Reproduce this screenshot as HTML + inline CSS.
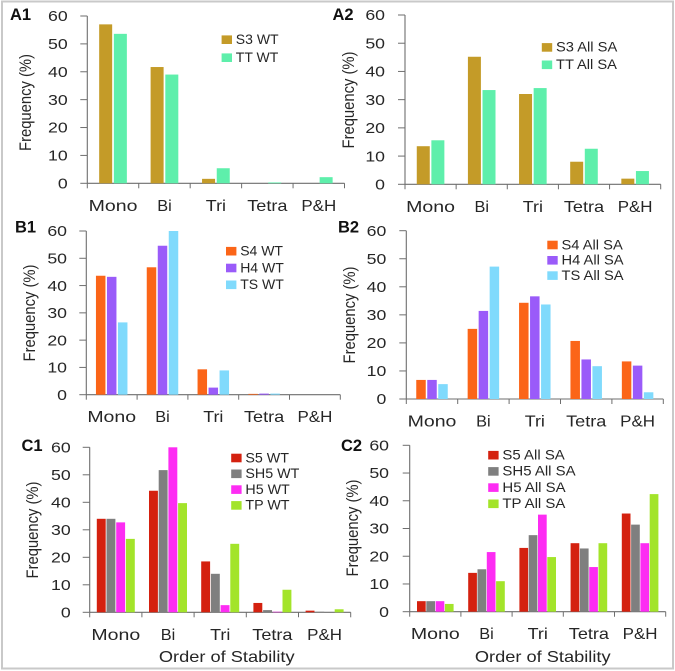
<!DOCTYPE html>
<html>
<head>
<meta charset="utf-8">
<style>
html,body{margin:0;padding:0;background:#fff;}
svg{display:block;font-family:"Liberation Sans",sans-serif;}
</style>
</head>
<body>
<svg id="figure" width="675" height="671" viewBox="0 0 675 671" xmlns="http://www.w3.org/2000/svg">
<rect x="0" y="0" width="675" height="671" fill="#ffffff"/>
<rect x="2" y="1.5" width="671" height="667" fill="none" stroke="#c9c9c9" stroke-width="2"/>
<g id="plots"></g>
</svg>
<script>
const categories = ['Mono', 'Bi', 'Tri', 'Tetra', 'P&H'];
const yTickLabels = [0, 10, 20, 30, 40, 50, 60];

const a1S3 = [57, 41.7, 1.6, 0, 0];
const a1TT = [53.6, 39, 5.4, 0.3, 2.2];
const a2S3 = [13.5, 45.2, 32, 8, 2];
const a2TT = [15.6, 33.4, 34.1, 12.6, 4.7];
const b1S4 = [43.6, 46.7, 9.3, 0.3, 0];
const b1H4 = [43.2, 54.6, 2.6, 0.4, 0];
const b1TS = [26.5, 60, 8.9, 0.4, 0];
const b2S4 = [6.8, 25, 34.3, 20.7, 13.4];
const b2H4 = [6.8, 31.4, 36.6, 14.1, 11.9];
const b2TS = [5.3, 47.2, 33.7, 11.7, 2.4];
const c1S5 = [34, 44.2, 18.5, 3.4, 0.6];
const c1SH5 = [34, 51.7, 14, 0.8, 0.2];
const c1H5 = [32.7, 60, 2.6, 0.2, 0];
const c1TP = [26.7, 39.7, 24.9, 8.2, 1.1];
const c2S5 = [3.8, 14, 23, 24.7, 35.4];
const c2SH5 = [3.8, 15.3, 27.6, 22.8, 31.4];
const c2H5 = [3.8, 21.5, 35, 16.1, 24.7];
const c2TP = [2.8, 11, 19.7, 24.7, 42.4];

const COLORS = {S3:'#c49b28', TT:'#5eefab', S4:'#fb6518', H4:'#9a5bf9', TS:'#80dafc', S5:'#d4210f', SH5:'#7f7f7f', H5:'#fd2cf3', TP:'#a3e42a'};
const STRETCH = {'Mono':1.22, 'Bi':1.02, 'Tri':1.12, 'Tetra':1.13, 'P&H':1.06};
const NS = 'http://www.w3.org/2000/svg';
const root = document.getElementById('plots');

function slug(s){ return s.toLowerCase().replace(/&/g,'-and-').replace(/[^a-z0-9]+/g,'-'); }

function make(parent, tag, attrs){
  const el = document.createElementNS(NS, tag);
  for (const k in attrs) el.setAttribute(k, attrs[k]);
  parent.appendChild(el);
  return el;
}

function label(parent, name, str, x, y, size, anchor, sx, extra){
  const el = make(parent, 'text', Object.assign({
    transform: 'translate(' + x + ',' + y + ') scale(' + sx + ',1)',
    'font-size': size, 'text-anchor': anchor, fill: '#262626'
  }, extra || {}));
  
  
  el.textContent = str;
  return el;
}

function drawPanel(p){
  const g = make(root, 'g', {});
  
  

  const bandW = (p.x1 - p.x0) / categories.length;
  const xBand = function(i){ return p.x0 + bandW * i; };
  const yScale = function(v){ return p.yb - (p.yb - p.yt) * v / 60; };

  // axes
  const yAxis = make(g, 'line', {x1: p.x0, x2: p.x0, y1: p.yt, y2: p.yb, stroke: '#6e6e6e', 'stroke-width': 1.1});
  
  
  const xAxis = make(g, 'line', {x1: p.x0, x2: p.x1, y1: p.yb, y2: p.yb, stroke: '#6e6e6e', 'stroke-width': 1.1});
  
  

  // bars
  const n = p.series.length;
  const total = n * p.barW + (n - 1) * p.gap;
  p.series.forEach(function(s, si){
    s.values.forEach(function(v, ci){
      const bx = xBand(ci) + (bandW - total) / 2 + si * (p.barW + p.gap);
      const by = yScale(v);
      const bar = make(g, 'rect', {x: bx, y: by, width: p.barW, height: Math.max(0, p.yb - by), fill: COLORS[s.key]});
      
      
    });
  });

  yTickLabels.forEach(function(t){
    const yy = yScale(t);
    const tick = make(g, 'line', {x1: p.x0 - 7, x2: p.x0, y1: yy, y2: yy, stroke: '#6e6e6e', 'stroke-width': 1});
    
    
    label(g, 'y-tick-label', String(t), p.x0 - p.ylOff, yy + 5.2, 14.5, 'end', 1.22);
  });

  for (let i = 0; i <= categories.length; i++) {
    const tick = make(g, 'line', {x1: xBand(i), x2: xBand(i), y1: p.yb, y2: p.yb + 5, stroke: '#6e6e6e', 'stroke-width': 1});
    
    
  }
  categories.forEach(function(c, i){
    label(g, 'x-tick-label', c, xBand(i) + bandW / 2, p.yb + 27.5, 16, 'middle', STRETCH[c]);
  });

  // axis titles
  label(g, 'y-axis-title', 'Frequency (%)', 0, 0, 17, 'middle', 1, {transform: 'translate(' + p.ytx + ',' + p.yty + ') rotate(-90) scale(0.87,1)'});
  if (p.xTitle) label(g, 'x-axis-title', 'Order of Stability', p.xTitle, 662, 16, 'middle', 1.14);

  // panel tag
  label(g, 'panel-label', p.id, p.tagX, p.tagY, 16.5, 'start', 1, {'font-weight': 'bold', fill: '#111'});

  // legend
  const legend = make(g, 'g', {});
  
  
  p.series.forEach(function(s, si){
    const yy = p.legY + si * p.legStep;
    const sw = make(legend, 'rect', {x: p.legX, y: yy - 8.6, width: 10.4, height: 8.6, fill: COLORS[s.key]});
    
    
    label(legend, 'legend-entry-' + slug(s.name), s.name, p.legX + 14.2, yy, 14, 'start', p.legSx);
  });
}

drawPanel({id:'A1', x0:87.3, x1:344.5, yt:16, yb:183.3, barW:13, gap:1.7, ylOff:19.6, ytx:31, yty:102.5, tagX:10, tagY:20,
  legX:221.6, legY:44, legStep:18, legSx:1,
  series:[{key:'S3', name:'S3 WT', values:a1S3},{key:'TT', name:'TT WT', values:a1TT}]});
drawPanel({id:'A2', x0:405, x1:660.7, yt:15, yb:184.3, barW:13, gap:1.6, ylOff:20, ytx:354, yty:100, tagX:332.5, tagY:20,
  legX:541.8, legY:51.7, legStep:17.4, legSx:1.05,
  series:[{key:'S3', name:'S3 All SA', values:a2S3},{key:'TT', name:'TT All SA', values:a2TT}]});
drawPanel({id:'B1', x0:86.3, x1:340.3, yt:231, yb:394.7, barW:9.5, gap:1.5, ylOff:19.3, ytx:35, yty:313, tagX:15, tagY:232.7,
  legX:226, legY:255.5, legStep:16.8, legSx:1,
  series:[{key:'S4', name:'S4 WT', values:b1S4},{key:'H4', name:'H4 WT', values:b1H4},{key:'TS', name:'TS WT', values:b1TS}]});
drawPanel({id:'B2', x0:406.3, x1:663.3, yt:230.7, yb:399, barW:9.5, gap:1.5, ylOff:20, ytx:355, yty:315, tagX:338, tagY:232.7,
  legX:547.3, legY:249.3, legStep:15.3, legSx:1.05,
  series:[{key:'S4', name:'S4 All SA', values:b2S4},{key:'H4', name:'H4 All SA', values:b2H4},{key:'TS', name:'TS All SA', values:b2TS}]});
drawPanel({id:'C1', x0:89.7, x1:350.7, yt:447.3, yb:612.3, barW:8.9, gap:0.8, ylOff:19, ytx:38, yty:530, tagX:21.5, tagY:451,
  legX:231.2, legY:462.3, legStep:15.8, legSx:1.02, xTitle:226.7,
  series:[{key:'S5', name:'S5 WT', values:c1S5},{key:'SH5', name:'SH5 WT', values:c1SH5},{key:'H5', name:'H5 WT', values:c1H5},{key:'TP', name:'TP WT', values:c1TP}]});
drawPanel({id:'C2', x0:409.7, x1:665.7, yt:445.3, yb:611.7, barW:8.7, gap:0.6, ylOff:20.7, ytx:358, yty:528, tagX:341, tagY:451,
  legX:488.2, legY:459.5, legStep:16.2, legSx:1.07, xTitle:542.7,
  series:[{key:'S5', name:'S5 All SA', values:c2S5},{key:'SH5', name:'SH5 All SA', values:c2SH5},{key:'H5', name:'H5 All SA', values:c2H5},{key:'TP', name:'TP All SA', values:c2TP}]});
</script>
</body>
</html>
